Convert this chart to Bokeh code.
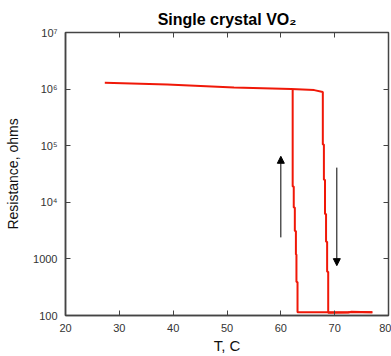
from bokeh.plotting import figure
from bokeh.models import (Range1d, FixedTicker, LinearAxis, LogAxis,
                          Arrow, NormalHead)
from bokeh.embed import file_html
from bokeh.resources import INLINE

# ---- data ----
heat_T = [27.3, 38.9, 51.3, 61.9, 66.2, 67.8, 67.8, 68.0, 68.0, 68.2, 68.2,
          68.4, 68.4, 68.6, 68.6, 68.8, 68.8, 69.1, 72.5, 73.0, 77.0]
heat_R = [1.29e6, 1.20e6, 1.07e6, 1.0e6, 0.96e6, 0.89e6, 1.05e5, 1.05e5,
          2.5e4, 2.5e4, 6.2e3, 6.2e3, 2.0e3, 2.0e3, 590, 590, 112, 112,
          113, 116, 114]
cool_T = [77.0, 63.1, 63.1, 62.9, 62.9, 62.8, 62.8, 62.6, 62.6, 62.4, 62.4,
          62.2, 62.2]
cool_R = [114, 114, 390, 390, 1.2e3, 1.2e3, 3.1e3, 3.1e3, 8.1e3, 8.1e3,
          1.9e4, 1.9e4, 1.0e6]
arrow_up = (60.0, 2.4e3, 6.5e4)
arrow_down = (70.4, 4.1e4, 760)
x_ticks = [20, 30, 40, 50, 60, 70, 80]
y_ticks = [100, 1000, 1e4, 1e5, 1e6, 1e7]
y_labels = ["100", "1000", "10\u2074", "10\u2075", "10\u2076", "10\u2077"]
title_text = "Single crystal VO\u2082"

p = figure(width=391, height=356, output_backend="svg", toolbar_location=None,
           y_axis_type="log", x_range=Range1d(20, 80), y_range=Range1d(100, 1e7),
           min_border_left=65, min_border_right=3, min_border_top=32,
           min_border_bottom=39, title=title_text)
p.title.align = "center"
p.title.text_font = "Liberation Sans"
p.title.text_font_style = "bold"
p.title.text_font_size = "16px"
p.title.text_color = "black"
p.title.standoff = 10
p.title.offset = 0

p.grid.visible = False
p.outline_line_color = "#444444"
p.outline_line_width = 1.5
p.background_fill_color = "white"
p.border_fill_color = "white"

ax_col = "#444444"
for ax in (p.xaxis[0], p.yaxis[0]):
    ax.axis_line_color = ax_col
    ax.axis_line_width = 1.5
    ax.major_tick_line_color = ax_col
    ax.major_tick_in = 5
    ax.major_tick_out = 0
    ax.minor_tick_line_color = None
    ax.major_label_text_font = "Liberation Sans"
    ax.major_label_text_font_size = "11px"
    ax.major_label_text_color = "#333333"
    ax.axis_label_text_font = "Liberation Sans"
    ax.axis_label_text_font_style = "normal"
    ax.axis_label_text_color = "#111111"

p.xaxis[0].ticker = FixedTicker(ticks=x_ticks)
p.xaxis[0].major_label_standoff = 8
p.xaxis[0].axis_label = "T, C"
p.xaxis[0].axis_label_text_font_size = "15px"
p.xaxis[0].axis_label_standoff = 2

p.yaxis[0].ticker = FixedTicker(ticks=y_ticks)
p.yaxis[0].major_label_overrides = {t: l for t, l in zip(y_ticks, y_labels)}
p.yaxis[0].major_label_standoff = 8
p.yaxis[0].axis_label = "Resistance, ohms"
p.yaxis[0].axis_label_text_font_size = "14px"
p.yaxis[0].axis_label_standoff = 9

top = LinearAxis(ticker=FixedTicker(ticks=x_ticks),
                 major_label_overrides={t: "" for t in x_ticks})
right = LogAxis(ticker=FixedTicker(ticks=y_ticks),
                major_label_overrides={t: "" for t in y_ticks})
for ax in (top, right):
    ax.axis_line_color = None
    ax.major_tick_line_color = ax_col
    ax.major_tick_in = 5
    ax.major_tick_out = 0
    ax.minor_tick_line_color = None
    ax.major_label_text_font_size = "2px"
    ax.major_label_standoff = 0
p.add_layout(top, "above")
p.add_layout(right, "right")

p.line(heat_T, heat_R, line_color="#f01808", line_width=2)
p.line(cool_T, cool_R, line_color="#f01808", line_width=2)

p.add_layout(Arrow(end=NormalHead(size=7, fill_color="black", line_color="black"),
                   x_start=arrow_up[0], y_start=arrow_up[1],
                   x_end=arrow_up[0], y_end=arrow_up[2],
                   line_color="black", line_width=1))
p.add_layout(Arrow(end=NormalHead(size=7, fill_color="black", line_color="black"),
                   x_start=arrow_down[0], y_start=arrow_down[1],
                   x_end=arrow_down[0], y_end=arrow_down[2],
                   line_color="black", line_width=1))

open("out.html", "w").write(file_html(p, INLINE))
